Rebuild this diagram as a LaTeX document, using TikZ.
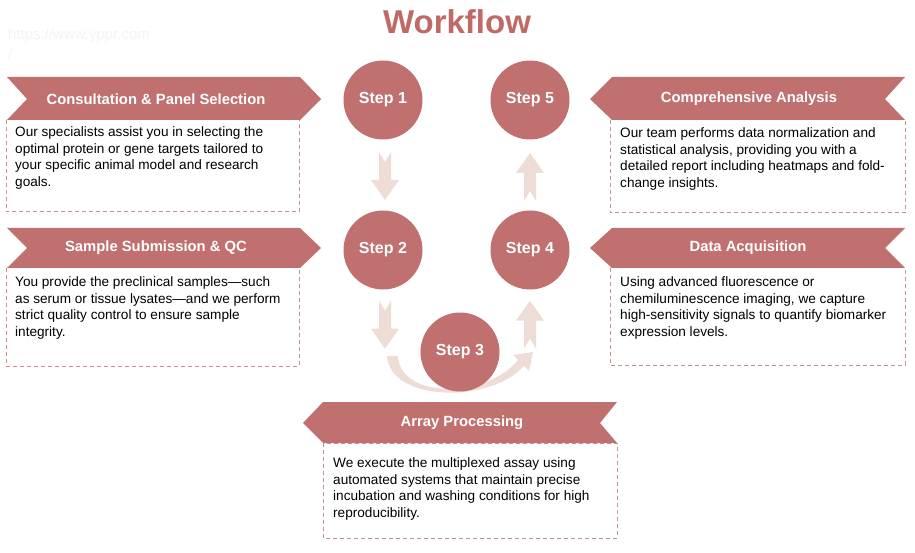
\documentclass[tikz,border=0pt]{standalone}
\usepackage{fontspec}
\setmainfont{Liberation Sans}
\usetikzlibrary{calc,arrows.meta}
\definecolor{rose}{RGB}{192,112,110}
\definecolor{roseline}{RGB}{206,142,140}
\definecolor{pale}{RGB}{238,221,215}
\definecolor{titlec}{RGB}{192,106,104}
\definecolor{wm}{RGB}{244,244,244}
\tikzset{
  banner/.style={fill=rose},
  dashbox/.style={draw=roseline, line width=1pt, dash pattern=on 4pt off 3pt},
  bannertext/.style={text=white, font=\bfseries\fontsize{14.8}{17}\selectfont, inner sep=0pt},
  bodytext/.style={anchor=west, align=left, inner sep=0pt, font=\fontsize{13.6}{16.6}\selectfont},
  stepnode/.style={circle, fill=rose, minimum size=79pt, inner sep=0pt, text=white, font=\bfseries\fontsize{16}{18}\selectfont},
  downarr/.pic={\fill[pale] (-6,-24) -- (0,-14) -- (6,-24) -- (6,4) -- (14,4) -- (0,24) -- (-14,4) -- (-6,4) -- cycle;},
  uparr/.pic={\fill[pale] (-6,24) -- (0,14) -- (6,24) -- (6,-4) -- (14,-4) -- (0,-24) -- (-14,-4) -- (-6,-4) -- cycle;}
}
\begin{document}
\begin{tikzpicture}[x=1pt,y=-1pt]
\useasboundingbox (0,0) rectangle (915,553);
\fill[white] (0,0) rectangle (915,553);
% watermark
\node[anchor=west, text=wm, font=\fontsize{15}{17}\selectfont, inner sep=0pt] (wm1) at (8,36) {https://www.yppr.com};
\node[anchor=west, text=wm, font=\fontsize{15}{17}\selectfont, inner sep=0pt] (wm2) at (8,54) {/};
% title
\node[text=titlec, font=\bfseries\fontsize{33}{36}\selectfont, inner sep=0pt] (title) at (457,22) {Workflow};

% ---- left column
\draw[dashbox] (6,120) rectangle (299,212);
\fill[banner] (7,77) -- (300,77) -- (321,99) -- (300,120) -- (7,120) -- (27,99) -- cycle;
\node[bannertext] (h1) at (156,99) {Consultation \& Panel Selection};
\node[bodytext] (t1) at (15,158) {Our specialists assist you in selecting the\\optimal protein or gene targets tailored to\\your specific animal model and research\\goals.};

\draw[dashbox] (6,268) rectangle (299,366);
\fill[banner] (7,228) -- (300,228) -- (321,248) -- (300,268) -- (7,268) -- (27,248) -- cycle;
\node[bannertext] (h2) at (156,248) {Sample Submission \& QC};
\node[bodytext] (t2) at (15,308) {You provide the preclinical samples—such\\as serum or tissue lysates—and we perform\\strict quality control to ensure sample\\integrity.};

% ---- right column
\draw[dashbox] (610,120) rectangle (905,213);
\fill[banner] (612,77) -- (905,77) -- (885,99) -- (905,120) -- (612,120) -- (590,99) -- cycle;
\node[bannertext] (h5) at (749,99) {Comprehensive Analysis};
\node[bodytext] (t5) at (620,159) {Our team performs data normalization and\\statistical analysis, providing you with a\\detailed report including heatmaps and fold-\\change insights.};

\draw[dashbox] (610,268) rectangle (905,365);
\fill[banner] (612,228) -- (905,228) -- (885,248) -- (905,268) -- (612,268) -- (590,248) -- cycle;
\node[bannertext] (h4) at (748,248) {Data Acquisition};
\node[bodytext] (t4) at (620,308) {Using advanced fluorescence or\\chemiluminescence imaging, we capture\\high-sensitivity signals to quantify biomarker\\expression levels.};

% ---- bottom
\draw[dashbox] (323,443) rectangle (617,538);
\fill[banner] (323,402) -- (617,402) -- (600,423) -- (617,443) -- (323,443) -- (303,423) -- cycle;
\node[bannertext] (h3) at (462,423) {Array Processing};
\node[bodytext] (t3) at (333,489) {We execute the multiplexed assay using\\automated systems that maintain precise\\incubation and washing conditions for high\\reproducibility.};

% ---- curved arrow (behind step 3)
\coordinate (cstart) at (393,356);
\coordinate (cend) at (533,352);
\fill[pale] (387,356) .. controls (390,402) and (490,404) .. (524,366)
  -- (529,371) -- (cend) -- (513,355) -- (518,360)
  .. controls (488,398) and (400,400) .. (398,356) -- cycle;

% ---- steps
\node[stepnode] (s1) at (383,100) {Step 1};
\node[stepnode] (s2) at (383,250) {Step 2};
\node[stepnode] (s3) at (460,352) {Step 3};
\node[stepnode] (s4) at (530,250) {Step 4};
\node[stepnode] (s5) at (530,100) {Step 5};

% ---- straight arrows
\pic at ($(s1.south)!0.5!(s2.north)+(2,1)$) {downarr};
\pic at ($(s2.south)+(2,35)$) {downarr};
\pic at ($(s4.north)!0.5!(s5.south)+(0,2)$) {uparr};
\pic at ($(s4.south)+(0,35)$) {uparr};
\end{tikzpicture}
\end{document}
